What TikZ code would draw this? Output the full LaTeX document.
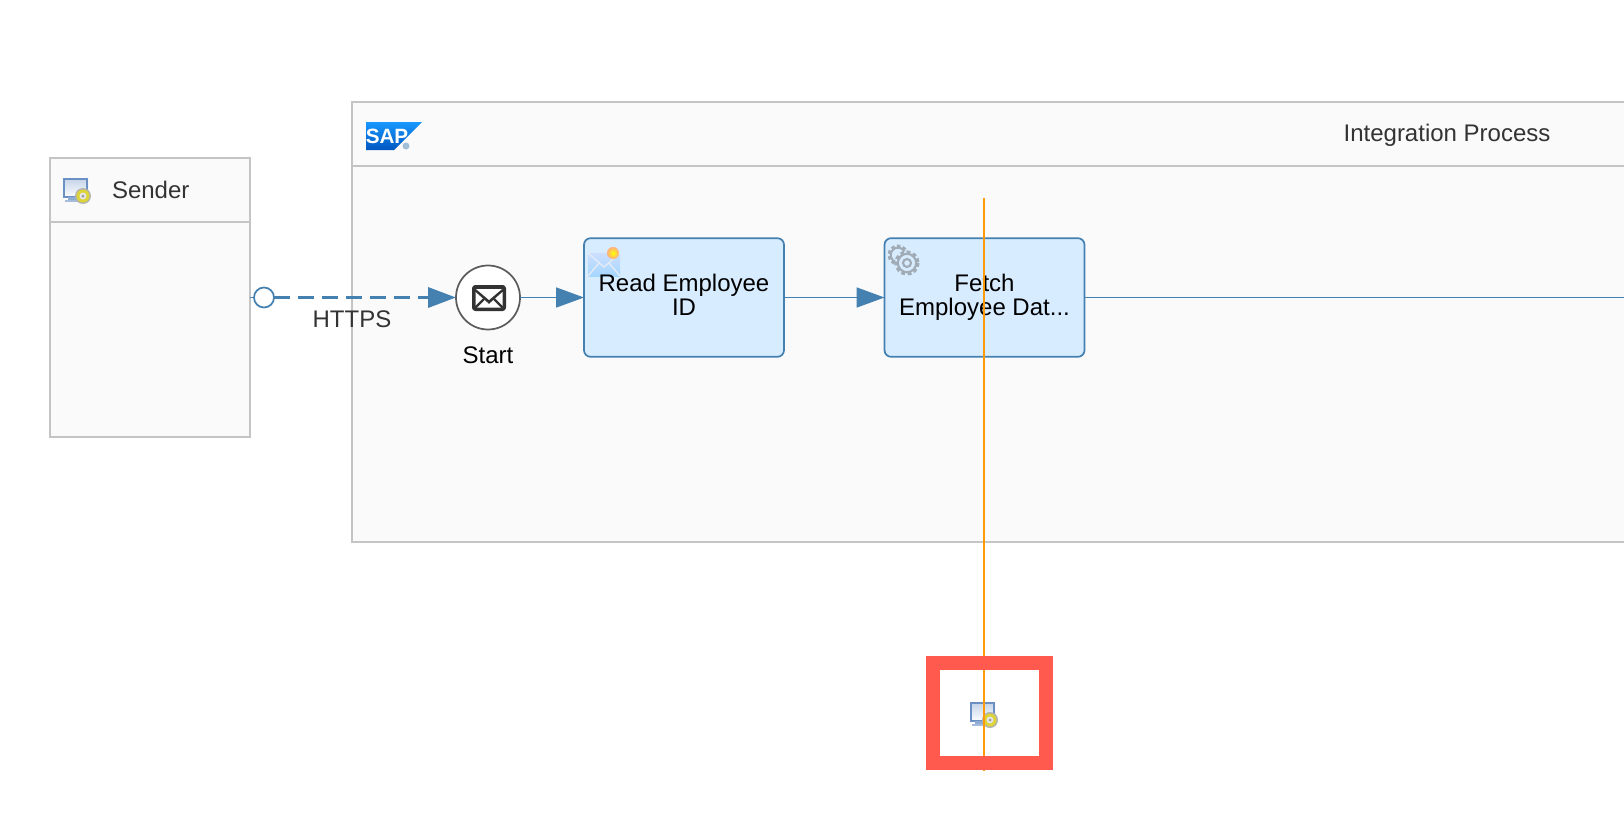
\documentclass[tikz,border=0pt]{standalone}
\usepackage{fontspec}
\setmainfont{Liberation Sans}
\usetikzlibrary{arrows.meta}
\definecolor{flowblue}{HTML}{4480B0}
\definecolor{poolgrey}{HTML}{C4C4C4}
\definecolor{poolfill}{HTML}{FAFAFA}
\definecolor{taskfill}{HTML}{D7ECFF}
\definecolor{txtdark}{HTML}{333333}
\definecolor{orangeline}{HTML}{FF9A0A}
\definecolor{redframe}{HTML}{FF5A4D}
\definecolor{gearcol}{HTML}{A0ABB6}
\definecolor{monblue}{HTML}{6A90C4}
\tikzset{
  every node/.style={outer sep=0pt},
  pool/.style={draw=poolgrey,fill=poolfill,line width=1.2pt,rectangle,inner sep=0pt},
  taskbox/.style={draw=flowblue,fill=taskfill,line width=1.3pt,rectangle,rounded corners=5pt,
    minimum width=150pt,minimum height=89pt,inner sep=0pt},
  tasktext/.style={align=center,text=black,inner sep=0pt,font=\fontsize{18}{18}\selectfont},
  lbl/.style={inner sep=0pt,text=txtdark,font=\fontsize{18}{18}\selectfont},
  flow/.style={draw=flowblue,line width=1.3pt},
  flowhead/.style={-{Triangle[length=21pt,width=15pt,fill=flowblue]}},
}
\newcommand{\monitoricon}[2]{%
  \begin{scope}[shift={(#1,#2)}]
    \shade[top color=monblue!40,bottom color=white] (0,0) rectangle (25,20);
    \draw[monblue,line width=1.5pt] (1,1) rectangle (24,18.5);
    \fill[monblue!75] (5,19) rectangle (13,22);
    \fill[monblue!60] (2,22) rectangle (15,24);
    \fill[gray!60] (20,18) circle (8);
    \fill[yellow!60!olive!75] (20,18) circle (6.5);
    \fill[white!80!gray] (20,18) circle (3.5);
    \fill[gray!80] (20,18) circle (1.5);
  \end{scope}}
\begin{document}
\begin{tikzpicture}[x=0.75pt,y=-0.75pt]
\useasboundingbox (0,0) rectangle (1624,828);
\clip (0,0) rectangle (1624,828);
% pools
\node[pool,minimum width=150pt,minimum height=209.25pt] (sender) at (150,297.5) {};
\coordinate (senderHL) at (50,222);
\coordinate (senderHR) at (250,222);
\draw[poolgrey,line width=1.2pt] (senderHL) -- (senderHR);
\node[lbl,anchor=west] (senderlabel) at (112,189.5) {Sender};
\node[pool,minimum width=1050pt,minimum height=330pt] (process) at (1052,322) {};
\coordinate (processHL) at (352,166);
\coordinate (processHR) at (1700,166);
\draw[poolgrey,line width=1.2pt] (processHL) -- (processHR);
\node[lbl] (processlabel) at (1447,135) {Integration Process};
% sender icon
\monitoricon{63}{178}
% SAP logo
\shade[top color=cyan!55!blue!90,bottom color=blue!55!cyan!75!black] (366,122) -- (422,122) -- (394,150) -- (366,150) -- cycle;
\node[inner sep=0pt,text=white,font=\fontsize{15.5}{15.5}\selectfont\bfseries] (saptext) at (387,136) {SAP};
\fill[flowblue!50] (406,146) circle (3.5);
% nodes
\node[circle,draw=txtdark!80,fill=white,line width=1.3pt,minimum size=48pt,inner sep=0pt] (start) at (488,297.5) {};
\node[lbl,text=black] (startlabel) at (488,355.5) {Start};
\node[taskbox] (read) at (684,297.5) {};
\node[taskbox] (fetch) at (984.5,297.5) {};
\node[circle,draw=flowblue,fill=white,line width=1.3pt,minimum size=15pt,inner sep=0pt] (port) at (264,297.5) {};
\coordinate (rightedge) at (1624,297.5);
% connectors
\draw[flow] (sender.east) -- (port.west);
\draw[flow,line width=2.6pt,dash pattern=on 12pt off 6pt,flowhead] (port.east) -- (start.west);
\draw[flow,flowhead] (start.east) -- (read.west);
\draw[flow,flowhead] (read.east) -- (fetch.west);
\draw[flow] (fetch.east) -- (rightedge);
\node[lbl] (https) at (352,319.5) {HTTPS};
% envelope in start event
\fill[txtdark,rounded corners=2.5pt] (472,285) rectangle (506,311);
\fill[white] (476,289) -- (502,289) -- (489,300) -- cycle;
\fill[white] (475.5,292) -- (489,304) -- (502.5,292) -- (502.5,307.5) -- (475.5,307.5) -- cycle;
\draw[txtdark,line width=1.7pt] (475,308) -- (484,299) (503,308) -- (494,299);
% read icon
\shade[top color=cyan!35!blue!20!white,bottom color=cyan!55!blue!35!white] (588,253) rectangle (620,276);
\draw[white!85!flowblue,line width=1pt] (588,253) -- (604,267) -- (620,253) (588,276) -- (599,263) (620,276) -- (609,263);
\shade[inner color=yellow,outer color=orange!70!red!50] (613,253) circle (6);
% gear icon
\begin{scope}[gearcol]
  \draw[line width=2.2pt,dash pattern=on 2.6pt off 1.8pt] (898,255) circle (9);
  \draw[line width=1.5pt] (898,255) circle (7.3);
  \fill[taskfill] (907,263) circle (12);
  \draw[line width=2.4pt,dash pattern=on 2.8pt off 2pt] (907,263) circle (11);
  \draw[line width=1.6pt] (907,263) circle (9.2);
  \draw[line width=1.6pt] (907,263) circle (4);
\end{scope}
% task labels above their icons
\node[tasktext] (readtext) at (read.center) {Read Employee\\ID\vphantom{y}};
\node[tasktext] (fetchtext) at (fetch.center) {Fetch\\Employee Dat...};
% marker icon
\monitoricon{970}{702}
% orange guide and red frame
\coordinate (guideT) at (984,198);
\coordinate (guideB) at (984,771);
\draw[orangeline,line width=1.5pt] (guideT) -- (guideB);
\node[draw=redframe,line width=10.5pt,fill=none,minimum width=84.75pt,minimum height=75pt,inner sep=0pt] (frame) at (989.5,713) {};
\end{tikzpicture}
\end{document}
